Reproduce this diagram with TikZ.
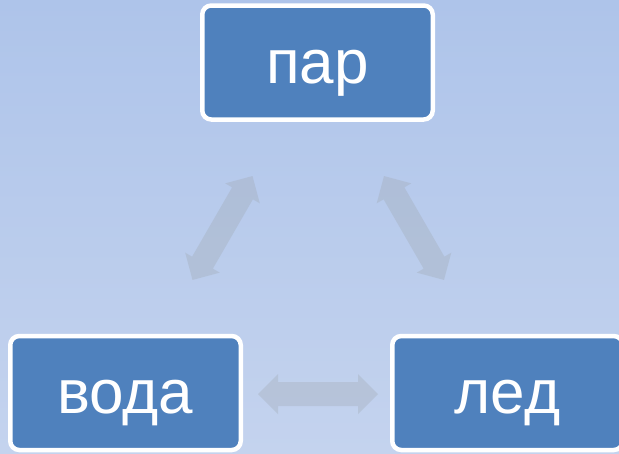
\documentclass[tikz,border=0pt]{standalone}
\usepackage{fontspec}
\setmainfont{Liberation Sans}
\begin{document}
\begin{tikzpicture}[x=1pt,y=-1pt,
  phasebox/.style={draw=white, line width=4.5pt, fill=boxblue, rounded corners=9pt,
    minimum width=230.5pt, minimum height=114pt, inner sep=0pt,
    text=white, font=\fontsize{62}{62}\selectfont, text height=41pt, text depth=0pt},
  dblarrow/.style={fill=arrowgray, fill opacity=0.3, draw=none}]
\definecolor{boxblue}{HTML}{4F81BD}
\definecolor{arrowgray}{HTML}{9DA5AC}
\definecolor{bgtop}{HTML}{AEC4EA}
\definecolor{bgbot}{HTML}{C4D3EE}
\useasboundingbox (0,0) rectangle (619,453);
\shade[top color=bgtop, bottom color=bgbot, draw=none] (0,0) rectangle (619,453);
\clip (0,0) rectangle (619,453);
\node[phasebox] (par) at (317.5,62.5) {пар};
\node[phasebox] (voda) at (125.5,393) {вода};
\node[phasebox] (led) at (507.5,393) {лед};
\foreach \cx/\cy/\ang in {318/394/0, 222.5/228/60, 414/228/-60}{
  \fill[dblarrow, shift={(\cx,\cy)}, rotate=\ang]
    (-60,0) -- (-40,-20) -- (-40,-12) -- (40,-12) -- (40,-20) -- (60,0)
    -- (40,20) -- (40,12) -- (-40,12) -- (-40,20) -- cycle;
}
\end{tikzpicture}
\end{document}
